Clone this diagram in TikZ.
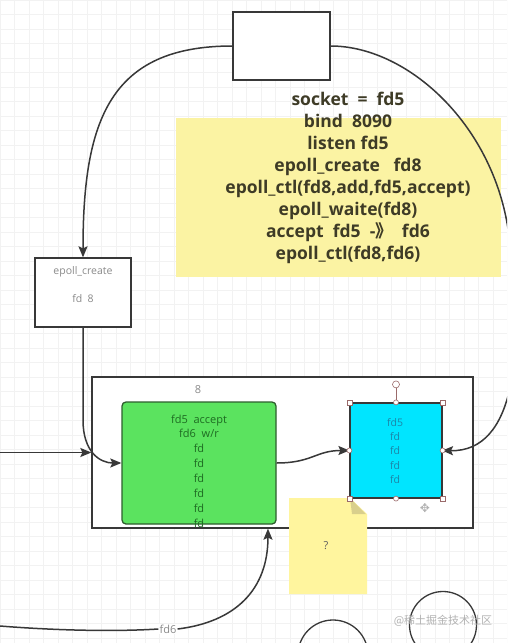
\documentclass[tikz,border=0pt]{standalone}
\usepackage{fontspec}
\setmainfont{Open Sans}
\newfontfamily\cjk{Noto Sans CJK SC}
\newfontfamily\djv{DejaVu Sans}
\usetikzlibrary{arrows.meta,calc}
\definecolor{ink}{HTML}{383838}
\definecolor{noteY}{HTML}{FBF3A3}
\definecolor{codeT}{HTML}{3E3B26}
\definecolor{greenF}{HTML}{5BE35F}
\definecolor{greenB}{HTML}{2E5E2E}
\definecolor{greenT}{HTML}{1E6B22}
\definecolor{cyanF}{HTML}{00E5FF}
\definecolor{cyanT}{HTML}{1C86A8}
\definecolor{greyT}{HTML}{8A8A8A}
\definecolor{stickY}{HTML}{FFF59E}
\definecolor{foldC}{HTML}{D9CF8C}
\definecolor{hdl}{HTML}{9A6A6A}
\definecolor{gridC}{HTML}{F2F2F2}
\tikzset{
  plainbox/.style={draw=ink, line width=1.3pt, fill=white, inner sep=0pt},
  conn/.style={draw=ink, line width=1.5pt},
  arr/.style={conn, -{Stealth[length=11pt,width=9pt,inset=2pt]}},
  smalltxt/.style={text=greyT, font=\fontsize{10.5}{28}\selectfont, align=center, inner sep=0pt},
  handle/.style={draw=hdl, fill=white, line width=0.6pt, inner sep=0pt, minimum size=5pt},
}
\begin{document}
\begin{tikzpicture}[x=1pt,y=-1pt]
\useasboundingbox (0,0) rectangle (507,643);
\clip (0,0) rectangle (507,643);
\fill[white] (0,0) rectangle (507,643);
% faint grid
\foreach \i in {0,...,35} \draw[gridC, line width=0.6pt] ({\i*14.5},0) -- ({\i*14.5},643);
\foreach \j in {0,...,44} \draw[gridC, line width=0.6pt] (0,{\j*14.5}) -- (507,{\j*14.5});

% yellow code note
\fill[noteY] (176,118) rectangle (501,277);

% top box
\node[plainbox, minimum width=97pt, minimum height=68pt] (top) at (281.5,46) {};

% epoll_create box
\node[plainbox, minimum width=96pt, minimum height=69pt] (ec) at (83,292.5) {};
\node[smalltxt] (ectext) at (83,285) {epoll\_create\\fd\ \ 8};

% container
\node[plainbox, minimum width=381pt, minimum height=151pt] (ct) at (282.5,452.5) {};
\node[text=greyT, font=\fontsize{11}{11}\selectfont, inner sep=0pt] (ctlab) at (198,390) {8};

% curves from top box
\draw[arr] (top.west) .. controls (110,46) and (83,120) .. (ec.north);
\draw[arr] (top.east) .. controls (410,46) and (500,130) .. (510,245)
   .. controls (524,350) and (516,452) .. (442,450.5);

% code text
\node[text=codeT, font=\bfseries\fontsize{17.5}{21.9}\selectfont, align=center, inner sep=0pt] (code) at (348,178)
 {socket\ \ =\ \ fd5\\
  bind\ \ 8090\\
  listen fd5\\
  epoll\_create\ \ \ fd8\\
  epoll\_ctl(fd8,add,fd5,accept)\\
  epoll\_waite(fd8)\\
  accept\ \ fd5\ \ -{\cjk 》}\ \ fd6\\
  epoll\_ctl(fd8,fd6)};

% green box
\node[draw=greenB, fill=greenF, line width=1.3pt, rounded corners=4pt, minimum width=154pt, minimum height=122pt, inner sep=0pt] (gr) at (199,463) {};
\node[text=greenT, font=\fontsize{11}{14.9}\selectfont, align=center, inner sep=0pt] (grtext) at (199,471)
 {fd5\ \ accept\\fd6\ \ w/r\\fd\\fd\\fd\\fd\\fd\\fd};

% cyan box
\node[draw=ink, fill=cyanF, line width=1.2pt, minimum width=92pt, minimum height=95pt, inner sep=0pt] (cy) at (396,450.5) {};
\node[text=cyanT, font=\fontsize{10.5}{14.3}\selectfont, align=center, inner sep=0pt] (cytext) at (395,451)
 {fd5\\fd\\fd\\fd\\fd};

% incoming arrows
\coordinate (inL) at (0,452.5);
\draw[arr] (inL) -- (ct.west);
\draw[arr] (ec.south) -- (83,420) .. controls (83,452) and (100,463) .. (gr.west);
\draw[arr] (gr.east) .. controls (312,463) and (316,450.5) .. (cy.west);

% sticky note
\fill[stickY] (289,498) -- (350,498) -- (367,514) -- (367,594) -- (289,594) -- cycle;
\fill[foldC] (350,498) -- (366,514) -- (352,514) -- cycle;
\node[text=ink!80, font=\fontsize{11}{11}\selectfont, inner sep=0pt] (q) at (326,546) {?};

% selection handles on cyan box
\draw[hdl, line width=0.6pt] (cy.north) -- ++(0,-14);
\node[handle, circle, minimum size=7pt] (rot) at ($(cy.north)+(0,-18)$) {};
\foreach \a in {north west,north east,south west,south east}
  \node[handle, rectangle] at (cy.\a) {};
\foreach \a in {north,south,west,east}
  \node[handle, circle] at (cy.\a) {};
\node[text=gray!60, font=\djv\fontsize{12}{12}\selectfont, inner sep=0pt] (move) at (425,508) {✥};

% bottom arrow with label fd6
\coordinate (inB) at (0,626);
\node[text=greyT, fill=white, font=\fontsize{11}{11}\selectfont, inner sep=1pt] (fd6) at (168,629) {fd6};
\draw[conn] (inB) .. controls (50,630) and (110,632) .. (fd6.west);
\draw[arr] (fd6.east) .. controls (235,622) and (268,590) .. ($(ct.south west)!0.462!(ct.south east)$);

% bottom circles
\draw[ink, line width=1.3pt] (333,655) circle (35pt);
\draw[ink, line width=1.3pt] (443,625) circle (33.5pt);

% watermark
\node[text=gray!60, font=\cjk\fontsize{11}{11}\selectfont, inner sep=0pt] (wm) at (443,621) {@稀土掘金技术社区};
\end{tikzpicture}
\end{document}
